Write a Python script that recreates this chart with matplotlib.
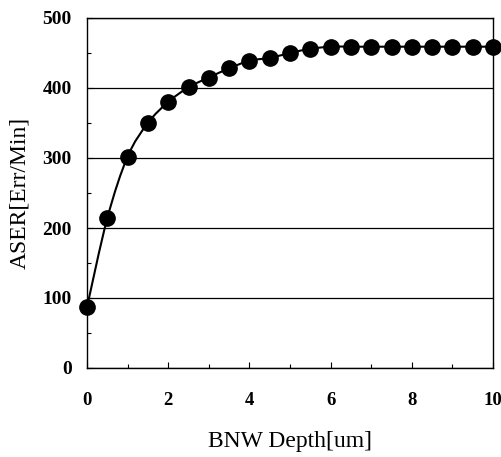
import matplotlib
matplotlib.use("Agg")
import matplotlib.pyplot as plt
import numpy as np
from matplotlib.path import Path
from matplotlib.patches import PathPatch
from matplotlib.ticker import MultipleLocator

depth = [0, 0.5, 1, 1.5, 2, 2.5, 3, 3.5, 4, 4.5, 5, 5.5, 6, 6.5, 7,
         7.5, 8, 8.5, 9, 9.5, 10]
aser = [87, 214, 302, 350, 380, 401, 415, 428, 439, 443, 450, 456, 459, 459, 459,
        459, 459, 459, 459, 459, 459]

plt.rcParams['font.family'] = ['Liberation Serif', 'DejaVu Serif']

fig = plt.figure(figsize=(5.01, 4.57), dpi=100)
ax = fig.add_axes([87/501, 1-368/457, (493-87)/501, (368-18)/457])

# smoothed line (Catmull-Rom -> Bezier), like the Excel smoothed curve
x = np.array(depth, float)
y = np.array(aser, float)
verts = [(x[0], y[0])]
codes = [Path.MOVETO]
for i in range(len(x) - 1):
    p0 = (x[max(i-1, 0)], y[max(i-1, 0)])
    p1 = (x[i], y[i])
    p2 = (x[i+1], y[i+1])
    p3 = (x[min(i+2, len(x)-1)], y[min(i+2, len(x)-1)])
    c1 = (p1[0] + (p2[0]-p0[0])/6, p1[1] + (p2[1]-p0[1])/6)
    c2 = (p2[0] - (p3[0]-p1[0])/6, p2[1] - (p3[1]-p1[1])/6)
    verts += [c1, c2, p2]
    codes += [Path.CURVE4]*3
ax.add_patch(PathPatch(Path(verts, codes), fill=False, lw=1.5, ec='black', zorder=3))
ax.plot(depth, aser, 'o', color='black', markersize=11, zorder=4, clip_on=False)

ax.set_xlim(0, 10)
ax.set_ylim(0, 500)
ax.set_xticks([0, 2, 4, 6, 8, 10])
ax.set_yticks([0, 100, 200, 300, 400, 500])
ax.yaxis.set_minor_locator(MultipleLocator(50))
ax.xaxis.set_minor_locator(MultipleLocator(1))
ax.tick_params(which='both', direction='in', length=4, width=0.8)
ax.tick_params(which='minor', length=3)
ax.tick_params(axis='x', pad=17, labelsize=13.5)
ax.tick_params(axis='y', pad=11, labelsize=14)
for lab in ax.get_xticklabels() + ax.get_yticklabels():
    lab.set_fontweight('bold')
ax.grid(axis='y', color='black', lw=0.9)
for s in ax.spines.values():
    s.set_linewidth(1.0)

ax.set_xlabel('BNW Depth[um]', fontsize=17, labelpad=16)
ax.set_ylabel('ASER[Err/Min]', fontsize=17, labelpad=9)

fig.savefig('out.png', dpi=100)
